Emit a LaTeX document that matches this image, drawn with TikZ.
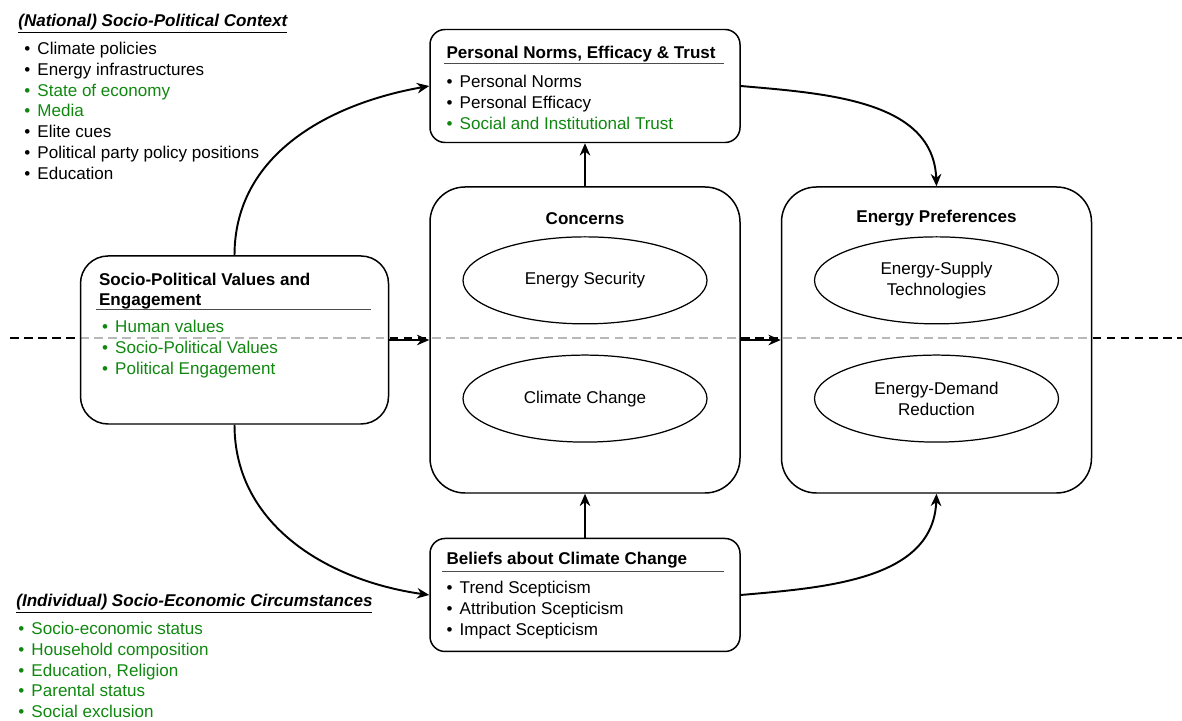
\documentclass[tikz,border=0pt]{standalone}
\usepackage{fontspec}
\setmainfont{Liberation Sans}
\usepackage{xcolor}
\usepackage{tikz}
\usetikzlibrary{shapes.geometric, arrows.meta, positioning}

\definecolor{itemgreen}{RGB}{16,136,16}
\newcommand{\bul}{\textbullet\hspace{0.42em}}
\newcommand{\gbul}[1]{\textcolor{itemgreen}{\bul #1}}

\begin{document}
\begin{tikzpicture}[
  font=\fontsize{9.7pt}{11.9pt}\selectfont,
  bigbox/.style={rectangle, rounded corners=0.7cm, draw, line width=0.85pt,
                 fill=white, fill opacity=0.72, text opacity=1,
                 minimum width=6.2cm, minimum height=6.12cm},
  listbox/.style={rectangle, rounded corners=0.3cm, draw, line width=0.85pt,
                  fill=white, fill opacity=0.72, text opacity=1,
                  minimum width=6.2cm, minimum height=2.26cm},
  oval/.style={ellipse, draw, line width=0.7pt, minimum width=4.88cm,
               minimum height=1.74cm, inner sep=0pt, align=center},
  head/.style={font=\fontsize{9.7pt}{11.4pt}\selectfont\bfseries, align=left,
               inner sep=0pt, anchor=north west},
  items/.style={align=left, inner sep=0pt, anchor=north west},
  headrule/.style={draw=black!70, line width=0.6pt},
  arrow/.style={-{Stealth[length=7pt, width=6pt]}, line width=1.1pt},
  midline/.style={line width=1.5pt, dash pattern=on 5pt off 3pt}
]
\useasboundingbox (0,0) rectangle (23.64,14.4);

% national / individual divide
\coordinate (dashL) at (0.2,7.64);
\coordinate (dashR) at (23.64,7.64);
\draw[midline] (dashL) -- (dashR);

% main boxes
\node[bigbox] (conc) at (11.7,7.6) {};
\node[bigbox, right=0.8cm of conc] (pref) {};
\node[listbox, above=0.86cm of conc] (pn) {};
\node[listbox, below=0.88cm of conc] (bel) {};
\node[listbox, left=0.8cm of conc, minimum width=6.16cm, minimum height=3.36cm,
      rounded corners=0.55cm] (spv) {};

% concerns
\node[head, anchor=center] (conchead) at ([yshift=-0.64cm]conc.north) {Concerns};
\node[oval, below=1.0cm of conc.north] (consec) {Energy Security};
\node[oval, below=0.6cm of consec] (conclim) {Climate Change};

% energy preferences
\node[head, anchor=center] (prefhead) at ([yshift=-0.64cm]pref.north) {Energy Preferences};
\node[oval, below=1.0cm of pref.north] (prefsup) {Energy-Supply\\Technologies};
\node[oval, below=0.6cm of prefsup] (prefdem) {Energy-Demand\\Reduction};

% personal norms
\node[head, below right=0.34cm and 0.34cm of pn.north west] (pnhead)
  {Personal Norms, Efficacy \& Trust};
\draw[headrule] ([xshift=0.3cm,yshift=-0.7cm]pn.north west) -- ++(5.6,0);
\node[items, below right=0.93cm and 0.34cm of pn.north west] (pnlist)
  {\bul Personal Norms\\ \bul Personal Efficacy\\ \gbul{Social and Institutional Trust}};

% beliefs
\node[head, below right=0.29cm and 0.34cm of bel.north west] (belhead)
  {Beliefs about Climate Change};
\draw[headrule] ([xshift=0.26cm,yshift=-0.68cm]bel.north west) -- ++(5.64,0);
\node[items, below right=0.87cm and 0.34cm of bel.north west] (bellist)
  {\bul Trend Scepticism\\ \bul Attribution Scepticism\\ \bul Impact Scepticism};

% values
\node[head, below right=0.36cm and 0.38cm of spv.north west] (spvhead)
  {Socio-Political Values and\\Engagement};
\draw[headrule] ([xshift=0.32cm,yshift=-1.08cm]spv.north west) -- ++(5.5,0);
\node[items, below right=1.29cm and 0.44cm of spv.north west] (spvlist)
  {\gbul{Human values}\\ \gbul{Socio-Political Values}\\ \gbul{Political Engagement}};

% context lists
\node[head, font=\fontsize{9.7pt}{12pt}\selectfont\bfseries\itshape] (ctxhead) at (0.36,14.13)
  {\underline{(National) Socio-Political Context}};
\node[items] (ctxlist) at (0.48,13.57)
  {\bul Climate policies\\ \bul Energy infrastructures\\ \gbul{State of economy}\\
   \gbul{Media}\\ \bul Elite cues\\ \bul Political party policy positions\\ \bul Education};
\node[head, font=\fontsize{9.7pt}{12pt}\selectfont\bfseries\itshape] (sochead) at (0.32,2.53)
  {\underline{(Individual) Socio-Economic Circumstances}};
\node[items] (soclist) at (0.36,1.97)
  {\gbul{Socio-economic status}\\ \gbul{Household composition}\\ \gbul{Education, Religion}\\
   \gbul{Parental status}\\ \gbul{Social exclusion}};

% arrows
\draw[arrow] (spv.north) to[out=90, in=190] (pn.west);
\draw[arrow] (spv.south) to[out=-90, in=172] (bel.west);
\draw[arrow] (pn.east) to[out=-5, in=92] (pref.north);
\draw[arrow] (bel.east) to[out=5, in=-92] (pref.south);
\draw[arrow] (conc.north) -- (pn.south);
\draw[arrow] (bel.north) -- (conc.south);
\draw[arrow] (spv.east) -- (conc.west);
\draw[arrow] (conc.east) -- (pref.west);

\end{tikzpicture}
\end{document}
